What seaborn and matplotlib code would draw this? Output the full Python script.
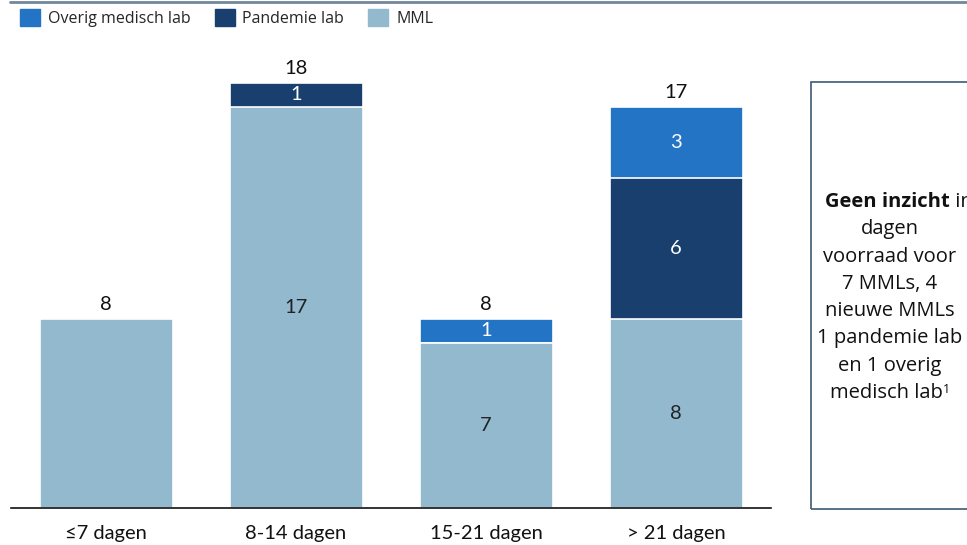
import seaborn as sns
import matplotlib.pyplot as plt
import matplotlib.patches as mpatches
from matplotlib.lines import Line2D
import pandas as pd

categories = ["≤7 dagen", "8-14 dagen", "15-21 dagen", "> 21 dagen"]
mml = [8, 17, 7, 8]
pandemie = [0, 1, 0, 6]
overig = [0, 0, 1, 3]

C_OVERIG = "#2474C6"
C_PANDEMIE = "#183F6E"
C_MML = "#93B9CF"

sns.set_theme(style="white")
plt.rcParams["font.family"] = ["Lato", "DejaVu Sans"]

fig = plt.figure(figsize=(9.67, 5.45), dpi=100)
ax = fig.add_axes([11 / 967, 37 / 545, 760 / 967, 472 / 545])

# layered bars: totals first, then lower stacks on top of them
totals = [m + p + o for m, p, o in zip(mml, pandemie, overig)]
mid = [m + p for m, p in zip(mml, pandemie)]
layers = [(totals, C_OVERIG), (mid, C_PANDEMIE), (mml, C_MML)]
for vals, col in layers:
    df = pd.DataFrame({"cat": categories, "val": vals})
    sns.barplot(data=df, x="cat", y="val", color=col, width=0.7,
                edgecolor="white", linewidth=1.2, saturation=1, ax=ax)

ax.set_xlim(-0.5, 3.5)
ax.set_ylim(0, 20)
ax.set_xlabel("")
ax.set_ylabel("")
ax.set_yticks([])
ax.tick_params(axis="x", length=0, pad=12, labelsize=14.5, colors="#111111")
for s in ["top", "left", "right"]:
    ax.spines[s].set_visible(False)
ax.spines["bottom"].set_color("#111111")
ax.spines["bottom"].set_linewidth(1.2)

# segment labels
for i in range(len(categories)):
    segs = [(0, mml[i], "#222222"), (mml[i], pandemie[i], "white"),
            (mml[i] + pandemie[i], overig[i], "white")]
    n_segs = sum(1 for s in segs if s[1] > 0)
    if n_segs > 1:
        for base, v, tc in segs:
            if v > 0:
                ax.text(i, base + v / 2, str(v), ha="center", va="center",
                        fontsize=14.5, color=tc)
    ax.text(i, totals[i] + 0.25, str(totals[i]), ha="center", va="bottom",
            fontsize=14.5, color="#111111")

# legend
handles = [mpatches.Patch(color=C_OVERIG, label="Overig medisch lab"),
           mpatches.Patch(color=C_PANDEMIE, label="Pandemie lab"),
           mpatches.Patch(color=C_MML, label="MML")]
fig.legend(handles=handles, loc="center left", bbox_to_anchor=(20 / 967, 1 - 18 / 545),
           ncol=3, frameon=False, handlelength=1.25, handleheight=1.25,
           handletextpad=0.5, columnspacing=1.5, borderaxespad=0, borderpad=0,
           prop={"family": ["Open Sans", "DejaVu Sans"], "size": 11.5})

# top rule
fig.add_artist(Line2D([10 / 967, 1], [1 - 2 / 545, 1 - 2 / 545], color="#72889A", lw=2))

# side box
fig.add_artist(mpatches.Rectangle((811 / 967, 1 - 509 / 545), 200 / 967, 427 / 545,
                                  transform=fig.transFigure, fill=False,
                                  edgecolor="#3D5A73", lw=1.2))
box_font = ["Open Sans", "DejaVu Sans"]
fs_box = 14.5
cx = 890 / 967
lines = ["dagen", "voorraad voor", "7 MMLs, 4", "nieuwe MMLs",
         "1 pandemie lab", "en 1 overig"]
y0 = 1 - 202 / 545
step = 27.3 / 545
t_b = fig.text(825 / 967, y0, "Geen inzicht", ha="left", va="center",
               fontsize=fs_box, fontweight="bold", color="#111111", family=box_font)
ax.annotate(" in", xy=(1, 0), xycoords=t_b, va="bottom", ha="left",
            fontsize=fs_box, color="#111111", family=box_font, annotation_clip=False)
for k, ln in enumerate(lines):
    fig.text(cx, y0 - (k + 1) * step, ln, ha="center", va="center",
             fontsize=fs_box, color="#111111", family=box_font)
t_last = fig.text(cx - 4 / 967, y0 - 7 * step, "medisch lab", ha="center", va="center",
                  fontsize=fs_box, color="#111111", family=box_font)
ax.annotate("1", xy=(1, 1), xycoords=t_last, va="top", ha="left",
            fontsize=9, color="#111111", family=box_font, annotation_clip=False)

fig.savefig("out.png", dpi=100)
